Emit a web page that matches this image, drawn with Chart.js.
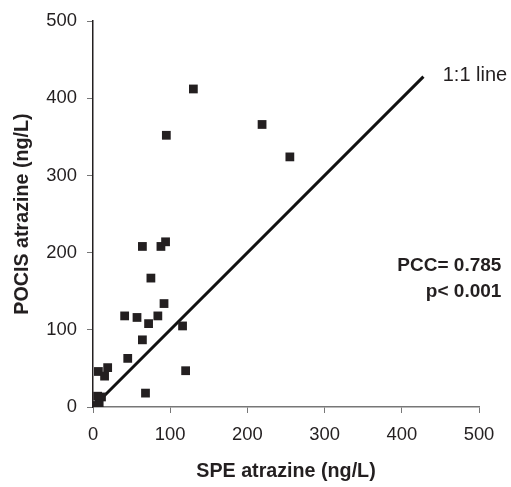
<!DOCTYPE html>
<html>
<head>
<meta charset="utf-8">
<script src="https://cdn.jsdelivr.net/npm/chart.js@4"></script>
<style>
  html, body { margin: 0; padding: 0; background: #fff; }
  #wrap { width: 511px; height: 487px; }
</style>
</head>
<body>
<div id="wrap"><canvas id="scatterChart"></canvas></div>
<script>
// SPE vs POCIS atrazine (ng/L)
const speValues = [130, 95, 219, 255, 64, 88, 94, 75, 92, 41, 57, 72, 84, 116, 64, 45, 120, 7, 15, 19, 68, 6, 11, 8, 5];
const pocisValues = [412, 352, 366, 324, 208, 208, 214, 167, 134, 118, 116, 108, 118, 105, 87, 63, 47, 46, 40, 51, 18, 14, 13, 4, 2];
const oneToOne = [0, 428];
const axisTicks = [0, 100, 200, 300, 400, 500];
const statLines = ['PCC= 0.785', 'p< 0.001'];

const points = speValues.map(function (v, i) { return { x: v, y: pocisValues[i] }; });
const linePts = oneToOne.map(function (v) { return { x: v, y: v }; });

const textPlugin = {
    id: 'notes',
    afterDatasetsDraw: function (chart) {
        const ctx = chart.ctx;
        const xs = chart.scales.x, ys = chart.scales.y;
        ctx.save();
        ctx.fillStyle = '#231f20';
        ctx.textBaseline = 'middle';
        // 1:1 label
        ctx.font = '20px "Liberation Sans", Arial, sans-serif';
        ctx.textAlign = 'left';
        ctx.fillText('1:1 line', xs.getPixelForValue(453), ys.getPixelForValue(430));
        // stats
        ctx.font = 'bold 19px "Liberation Sans", Arial, sans-serif';
        ctx.textAlign = 'right';
        ctx.fillText(statLines[0], xs.getPixelForValue(529), ys.getPixelForValue(183));
        ctx.fillText(statLines[1], xs.getPixelForValue(529), ys.getPixelForValue(149));
        ctx.restore();
    }
};

const tickFont = { family: '"Liberation Sans", Arial, sans-serif', size: 18.4 };
const titleFont = { family: '"Liberation Sans", Arial, sans-serif', size: 19.7, weight: 'bold' };

const ctx = document.getElementById('scatterChart').getContext('2d');
new Chart(ctx, {
    type: 'scatter',
    data: {
        datasets: [{
            label: 'Samples',
            data: points,
            pointStyle: 'rect',
            pointRadius: 6.2,
            backgroundColor: '#231f20',
            borderColor: '#231f20',
            borderWidth: 0
        }, {
            label: '1:1 line',
            data: linePts,
            showLine: true,
            pointRadius: 0,
            borderColor: '#111',
            borderWidth: 3
        }]
    },
    options: {
        responsive: true,
        maintainAspectRatio: false,
        animation: false,
        layout: { padding: { top: 20, right: 32, left: 0, bottom: 2 } },
        plugins: {
            legend: { display: false },
            tooltip: { enabled: false }
        },
        scales: {
            x: {
                type: 'linear',
                min: 0,
                max: 500,
                afterBuildTicks: function (s) { s.ticks = axisTicks.map(function (v) { return { value: v }; }); },
                afterFit: function (s) { s.height = 78; },
                grid: { drawOnChartArea: false, drawTicks: true, tickLength: 6, color: '#777' },
                border: { color: '#777', width: 1.5 },
                ticks: { font: tickFont, color: '#231f20', padding: 11, maxRotation: 0 },
                title: { display: true, text: 'SPE atrazine (ng/L)', font: titleFont, color: '#231f20', padding: { top: 0, bottom: 2 } }
            },
            y: {
                type: 'linear',
                min: 0,
                max: 500,
                afterBuildTicks: function (s) { s.ticks = axisTicks.map(function (v) { return { value: v }; }); },
                afterFit: function (s) { s.width = 93; },
                grid: { drawOnChartArea: false, drawTicks: true, tickLength: 6, color: '#777' },
                border: { color: '#231f20', width: 1.5 },
                ticks: { font: tickFont, color: '#231f20', padding: 10 },
                title: { display: true, text: 'POCIS atrazine (ng/L)', font: titleFont, color: '#231f20', padding: { top: 11, bottom: 0 } }
            }
        }
    },
    plugins: [textPlugin]
});
</script>
</body>
</html>
